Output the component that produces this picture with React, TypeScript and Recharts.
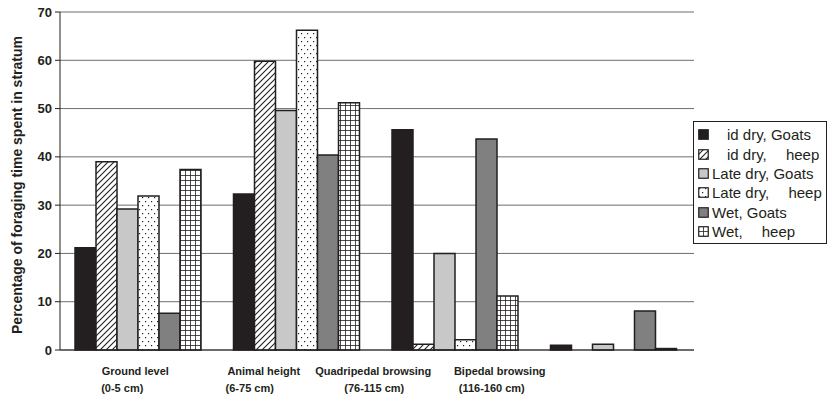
import { BarChart, Bar, XAxis, YAxis, CartesianGrid } from 'recharts';

// strata along the x axis (two text lines each)
const STRATA = ['Ground level', 'Animal height', 'Quadripedal browsing', 'Bipedal browsing'];
const STRATA_RANGE = ['(0-5 cm)', '(6-75 cm)', '(76-115 cm)', '(116-160 cm)'];

// percentage of foraging time per stratum
const midDryGoats = [21.2, 32.3, 45.6, 1.0];
const midDrySheep = [39.0, 59.8, 1.2, 0];
const lateDryGoats = [29.2, 49.6, 20.0, 1.2];
const lateDrySheep = [31.9, 66.2, 2.1, 0];
const wetGoats = [7.6, 40.4, 43.7, 8.1];
const wetSheep = [37.4, 51.2, 11.2, 0.3];

const Y_TICKS = [0, 10, 20, 30, 40, 50, 60, 70];

const SERIES = [
  { key: 'midDryGoats', name: '\u2003id dry, Goats', values: midDryGoats, fill: '#231f20', stroke: '#231f20' },
  { key: 'midDrySheep', name: '\u2003id dry, \u2003heep', values: midDrySheep, fill: 'url(#hatch)', stroke: '#231f20' },
  { key: 'lateDryGoats', name: 'Late dry, Goats', values: lateDryGoats, fill: '#c8c8c8', stroke: '#231f20' },
  { key: 'lateDrySheep', name: 'Late dry, \u2003heep', values: lateDrySheep, fill: 'url(#dots)', stroke: '#231f20' },
  { key: 'wetGoats', name: 'Wet, Goats', values: wetGoats, fill: '#808080', stroke: '#231f20' },
  { key: 'wetSheep', name: 'Wet, \u2003heep', values: wetSheep, fill: 'url(#grid)', stroke: '#231f20' },
];

const rows = STRATA.map((s, i) => {
  const row: Record<string, string | number> = { stratum: s, range: STRATA_RANGE[i] };
  SERIES.forEach(se => (row[se.key] = se.values[i]));
  return row;
});

// the scanned figure has its category labels drifting left; mimic that
const LINE1_SHIFT = [-4, -34, -83, -115];
const LINE2_SHIFT = [-17, -48, -82, -123];

const FONT = '"Liberation Sans", Arial, sans-serif';

function StratumTick({ x, y, payload, index }: any) {
  return (
    <g>
      <text x={x + LINE1_SHIFT[index]} y={y + 17} textAnchor="middle" fontFamily={FONT} fontWeight="bold" fontSize={11} fill="#231f20">
        {payload.value}
      </text>
      <text x={x + LINE2_SHIFT[index]} y={y + 34} textAnchor="middle" fontFamily={FONT} fontWeight="bold" fontSize={11} fill="#231f20">
        {STRATA_RANGE[index]}
      </text>
    </g>
  );
}

function LegendBox() {
  return (
    <div
      style={{
        position: 'absolute',
        left: 693,
        top: 121,
        width: 134,
        border: '1px solid #231f20',
        background: '#fff',
        padding: '3px 0 2px 4px',
        boxSizing: 'border-box',
        fontFamily: FONT,
        fontSize: 15,
        color: '#231f20',
      }}
    >
      {SERIES.map(s => (
        <div key={s.key} style={{ display: 'flex', alignItems: 'center', height: 19.4, whiteSpace: 'pre' }}>
          <svg width={11} height={11} style={{ marginRight: 3, flex: 'none' }}>
            <rect x={0.75} y={0.75} width={9.5} height={9.5} fill={s.fill} stroke={s.stroke} strokeWidth={1.2} />
          </svg>
          {s.name}
        </div>
      ))}
    </div>
  );
}

export default function App() {
  return (
    <div style={{ position: 'absolute', left: 0, top: 0, width: 829, height: 394, background: '#fff' }}>
      <svg width={0} height={0} style={{ position: 'absolute' }}>
        <defs>
          <pattern id="hatch" width={6} height={6} patternUnits="userSpaceOnUse">
            <rect width={6} height={6} fill="#fff" />
            <path d="M-1,7 L7,-1 M-4,4 L4,-4 M2,10 L10,2" stroke="#231f20" strokeWidth={1.1} />
          </pattern>
          <pattern id="dots" width={6} height={8} patternUnits="userSpaceOnUse">
            <rect width={6} height={8} fill="#fff" />
            <rect x={1} y={1} width={1.2} height={1.2} fill="#231f20" />
            <rect x={4} y={5} width={1.2} height={1.2} fill="#231f20" />
          </pattern>
          <pattern id="grid" width={5} height={5} patternUnits="userSpaceOnUse">
            <rect width={5} height={5} fill="#fff" />
            <path d="M0,0.5 H5 M0.5,0 V5" stroke="#231f20" strokeWidth={0.8} />
          </pattern>
        </defs>
      </svg>
      <BarChart
        width={829}
        height={394}
        data={rows}
        margin={{ top: 12, right: 135, bottom: 0, left: 0 }}
        barCategoryGap={15}
        barGap={0}
      >
        <CartesianGrid vertical={false} stroke="#6e6e6e" strokeWidth={1} />
        <XAxis
          dataKey="stratum"
          height={44}
          tick={<StratumTick />}
          tickLine={false}
          axisLine={{ stroke: '#231f20' }}
          interval={0}
        />
        <YAxis
          width={60}
          domain={[0, 70]}
          ticks={Y_TICKS}
          tickSize={5}
          tickMargin={3}
          axisLine={{ stroke: '#231f20' }}
          tickLine={{ stroke: '#231f20' }}
          tick={{ fontFamily: FONT, fontWeight: 'bold', fontSize: 13, fill: '#231f20' }}
          label={{
            content: () => (
              <text
                transform="translate(22,185) rotate(-90)"
                textAnchor="middle"
                fontFamily={FONT}
                fontWeight="bold"
                fontSize={14}
                fill="#231f20"
              >
                Percentage of foraging time spent in stratum
              </text>
            ),
          }}
        />
        {SERIES.map(s => (
          <Bar
            key={s.key}
            dataKey={s.key}
            name={s.name}
            fill={s.fill}
            stroke={s.stroke}
            strokeWidth={1.5}
            isAnimationActive={false}
          />
        ))}
      </BarChart>
      <LegendBox />
    </div>
  );
}
